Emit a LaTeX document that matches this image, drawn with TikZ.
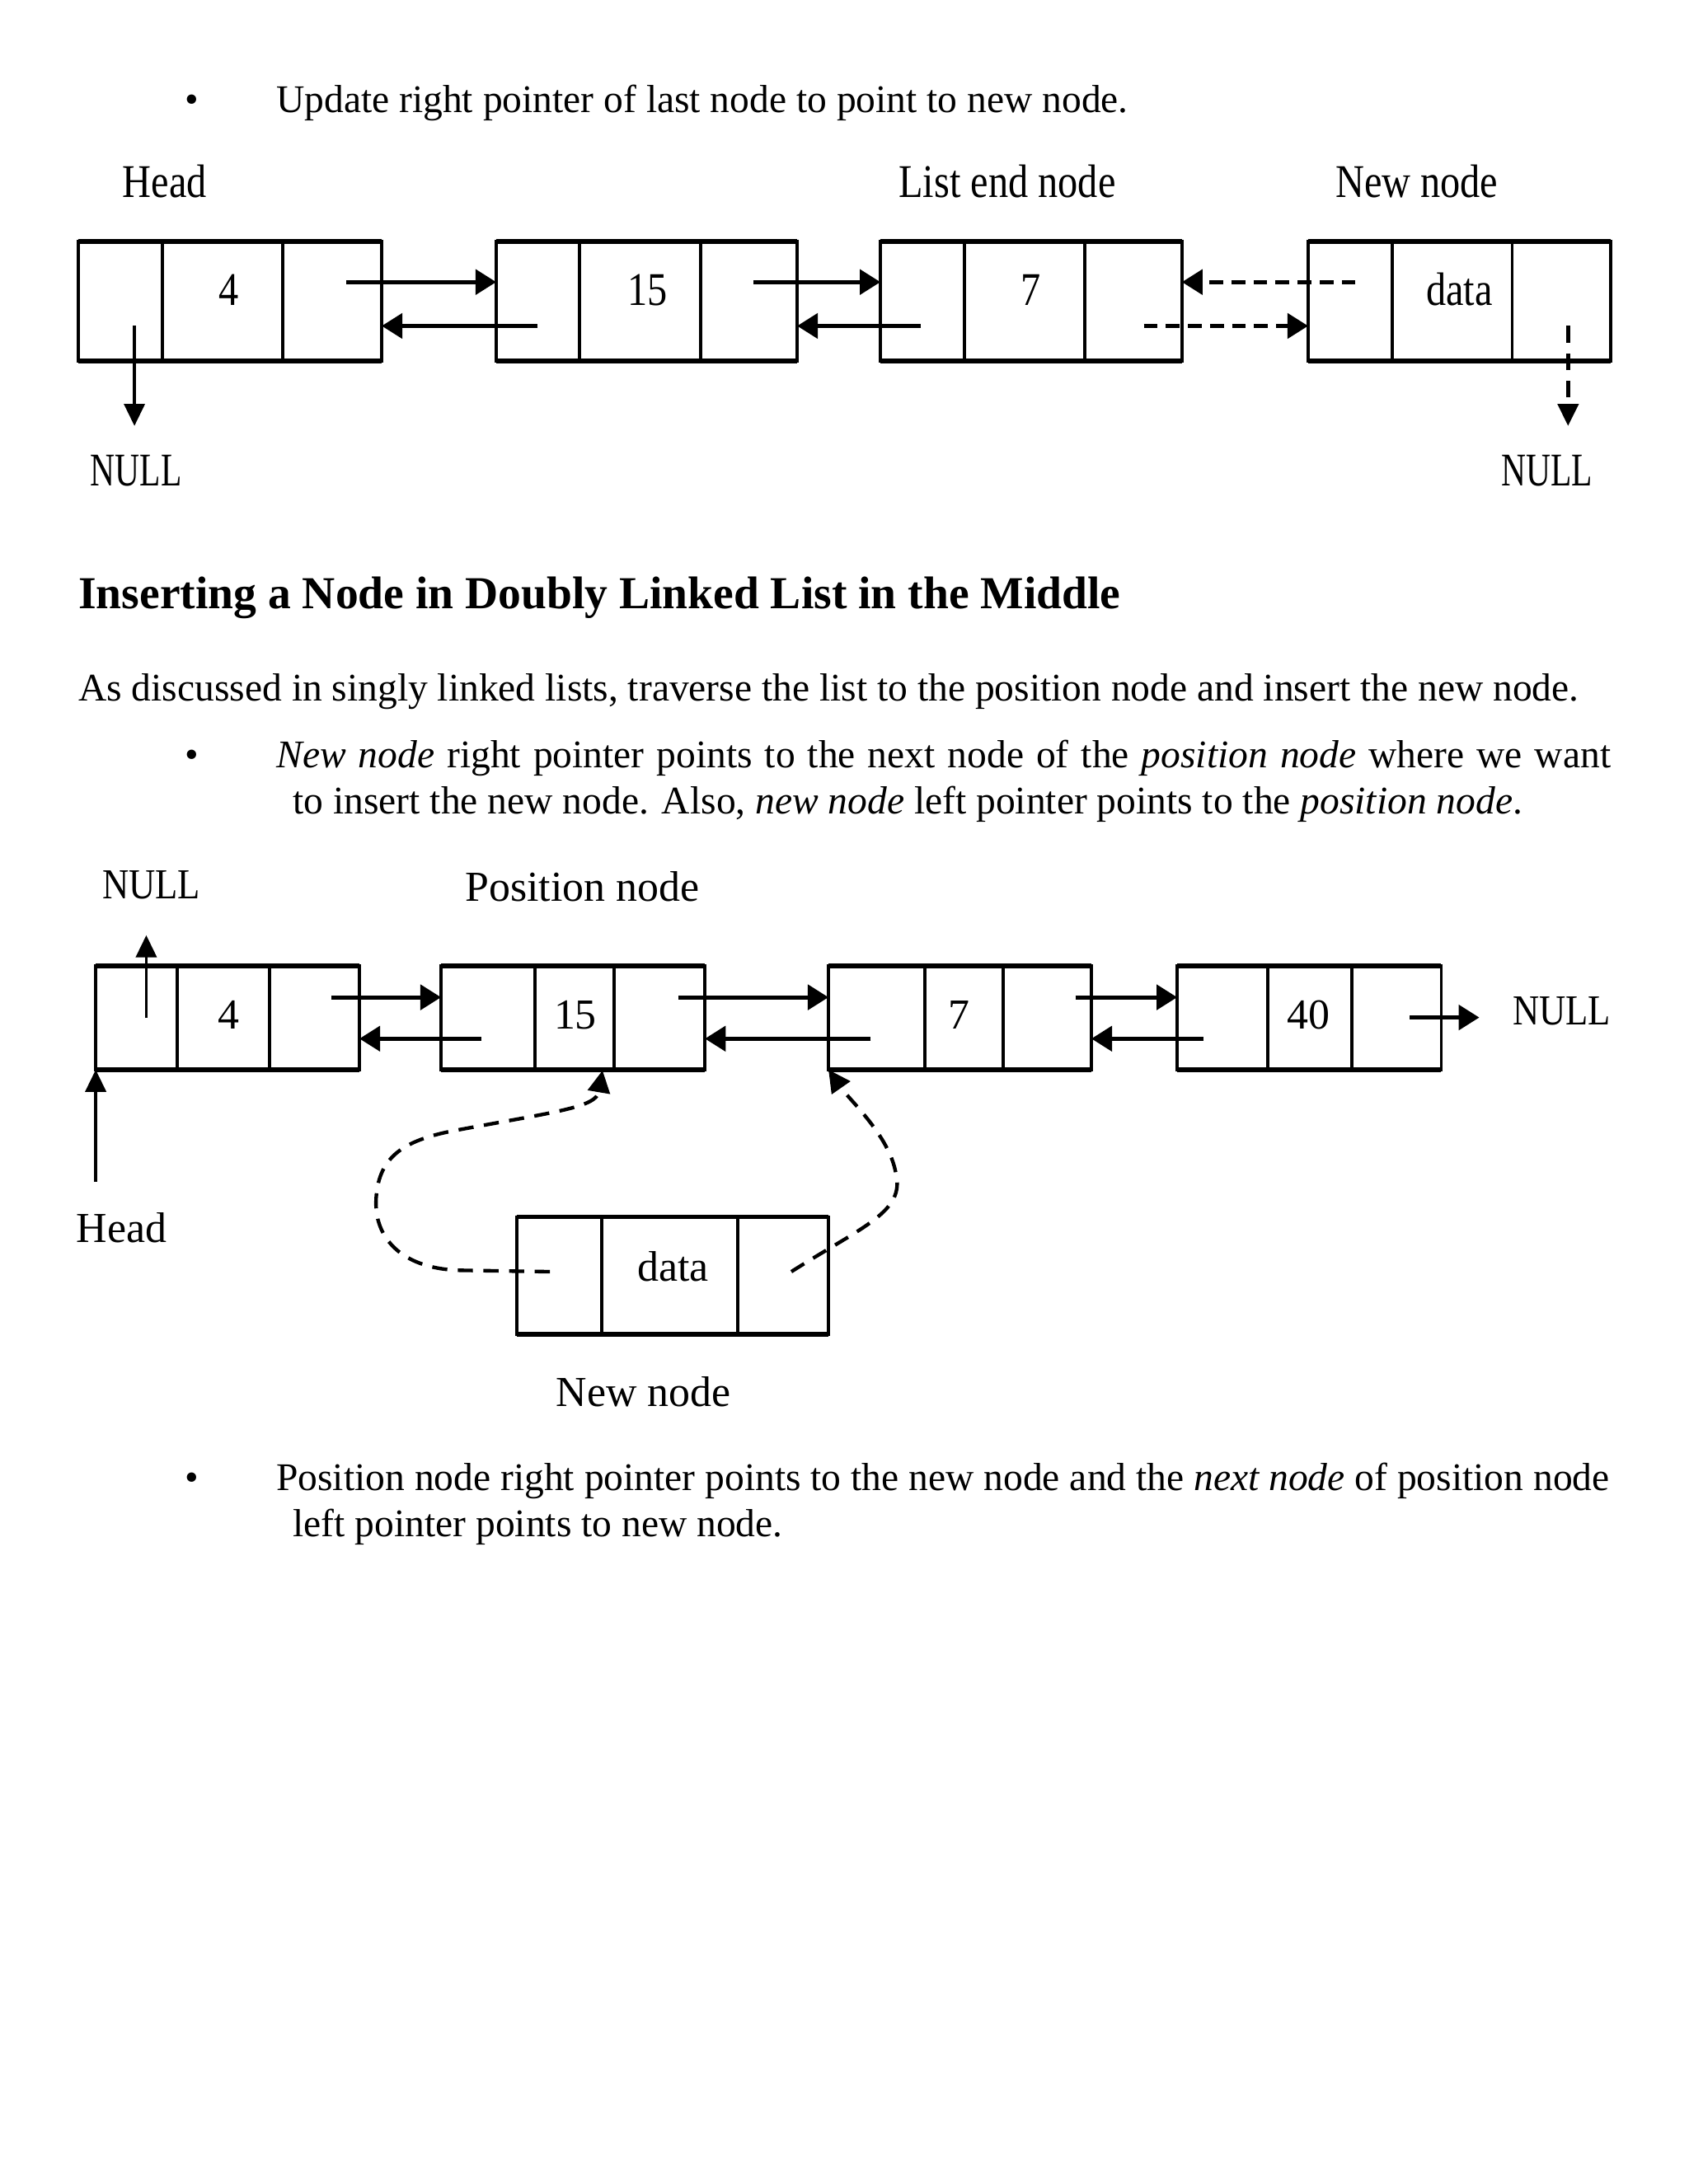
\documentclass[tikz,border=0pt]{standalone}
\usepackage{fontspec}
\setmainfont{Liberation Serif}
\newfontfamily\dgA[FakeStretch=0.85]{Liberation Serif}
\newfontfamily\dgB{Liberation Serif}
\newfontfamily\dgAnull[FakeStretch=0.73]{Liberation Serif}
\newfontfamily\dgBnull[FakeStretch=0.86]{Liberation Serif}
\usetikzlibrary{arrows.meta,calc}
\tikzset{
  cellA/.style={draw, line width=1.1pt, inner sep=0pt, outer sep=0pt, minimum height=85.5*0.505pt},
  cellB/.style={draw, line width=1.1pt, inner sep=0pt, outer sep=0pt, minimum height=74.5*0.505pt},
  cellN/.style={draw, line width=1.1pt, inner sep=0pt, outer sep=0pt, minimum height=84.4*0.505pt},
  cw/.style={minimum width=#1*0.505pt},
  edge/.style={line width=1.9pt, line cap=butt},
  valA/.style={inner sep=0pt, anchor=base, font=\dgA\fontsize{17}{20}\selectfont},
  nullA/.style={inner sep=0pt, anchor=base, font=\dgAnull\fontsize{17}{20}\selectfont},
  valB/.style={inner sep=0pt, anchor=base, font=\dgB\fontsize{15.5}{18}\selectfont},
  nullB/.style={inner sep=0pt, anchor=base, font=\dgBnull\fontsize{15.5}{18}\selectfont},
  body/.style={inner sep=0pt, font=\fontsize{14.2}{17}\selectfont},
  heading/.style={inner sep=0pt, font=\bfseries\fontsize{16.6}{20}\selectfont},
  ptr/.style={line width=1.5pt, -{Triangle[length=7.5pt,width=9pt]}},
  dptr/.style={ptr, dash pattern=on 5pt off 3pt},
  thinptr/.style={line width=1pt, -{Triangle[length=8pt,width=7.5pt]}},
  dthinptr/.style={line width=1.3pt, dash pattern=on 6pt off 4pt, -{Triangle[length=8pt,width=7.5pt]}},
  curveptr/.style={line width=1.3pt, dash pattern=on 5.5pt off 3.8pt, -{Triangle[length=8pt,width=8pt]}},
}
\begin{document}
\begin{tikzpicture}[x=0.505pt, y=-0.505pt]
\useasboundingbox (0,0) rectangle (1212,1568);
\fill[white] (0,0) rectangle (1212,1568);

% ---------- text ----------
\node[body, anchor=base] (b1) at (138,81) {•};
\node[body, anchor=base west] (t1) at (198,81) {Update right pointer of last node to point to new node.};
\node[heading, anchor=base west] (h1) at (56,437) {Inserting a Node in Doubly Linked List in the Middle};
\node[body, anchor=base west] (p1) at (56,503) {As discussed in singly linked lists, traverse the list to the position node and insert the new node.};
\node[body, anchor=base] (b2) at (138,551) {•};
\node[body, anchor=base west] (t2a) at (198,551) {\makebox[483.8pt][s]{\textit{New node} right pointer points to the next node of the \textit{position node} where we want}};
\node[body, anchor=base west] (t2b) at (210,584) {to insert the new node. Also, \textit{new node} left pointer points to the \textit{position node}.};
\node[body, anchor=base] (b3) at (138,1070) {•};
\node[body, anchor=base west] (t3a) at (198,1070) {\makebox[483.3pt][s]{Position node right pointer points to the new node and the \textit{next node} of position node}};
\node[body, anchor=base west] (t3b) at (210,1103) {left pointer points to new node.};

% ---------- diagram 1 ----------
\node[valA] (lA1) at (118.3,141.5) {Head};
\node[valA] (lA2) at (723,141.5) {List end node};
\node[valA] (lA3) at (1017,141.5) {New node};
\node[nullA] (nullA1) at (97.8,349) {NULL};
\node[nullA] (nullA2) at (1110.5,349) {NULL};

\node[cellA, cw=60.3] (A1p) at (86.45,216.25) {};
\node[cellA, cw=86.4] (A1d) at (159.8,216.25) {};
\node[cellA, cw=71]   (A1n) at (238.5,216.25) {};
\node[cellA, cw=59.8] (A2p) at (386.1,216.25) {};
\node[cellA, cw=87]   (A2d) at (459.5,216.25) {};
\node[cellA, cw=69.2] (A2n) at (537.6,216.25) {};
\node[cellA, cw=60.4] (A3p) at (662.2,216.25) {};
\node[cellA, cw=86.2] (A3d) at (735.5,216.25) {};
\node[cellA, cw=69.8] (A3n) at (813.5,216.25) {};
\node[cellA, cw=60.4] (A4p) at (969.2,216.25) {};
\node[cellA, cw=86]   (A4d) at (1042.4,216.25) {};
\node[cellA, cw=70.6] (A4n) at (1120.7,216.25) {};
\foreach \n in {A1,A2,A3,A4}{
  \draw[edge] (\n p.north west) -- (\n n.north east);
  \draw[edge] (\n p.south west) -- (\n n.south east);
}
\node[valA] (A1v) at (164,219) {4};
\node[valA] (A2v) at (465,219) {15};
\node[valA] (A3v) at (740,219) {7};
\node[valA] (A4v) at (1047.5,219) {data};

\coordinate (a1s) at (248.6,202.5);
\coordinate (a2b) at (386,234);
\coordinate (a2s) at (541,202.5);
\coordinate (a3b) at (661,234);
\coordinate (a4b) at (973,202.5);
\coordinate (a3s) at (821,234);
\coordinate (a1n) at (96.5,234);
\coordinate (a4n) at (1125.6,234);
\draw[ptr] (a1s) -- (a1s -| A2p.west);
\draw[ptr] (a2b) -- (a2b -| A1n.east);
\draw[ptr] (a2s) -- (a2s -| A3p.west);
\draw[ptr] (a3b) -- (a3b -| A2n.east);
\draw[dptr] (a4b) -- (a4b -| A3n.east);
\draw[dptr] (a3s) -- (a3s -| A4p.west);
\draw[thinptr, shorten >=10.5pt] (a1n) -- (a1n |- nullA1.north);
\draw[dthinptr, shorten >=10.5pt] (a4n) -- (a4n |- nullA2.north);

% ---------- diagram 2 ----------
\node[nullB] (nullB1) at (108.6,645) {NULL};
\node[valB] (lB1) at (418,647) {Position node};
\node[nullB] (nullB2) at (1121,736) {NULL};
\node[valB] (lB2) at (87.3,892) {Head};
\node[valB] (lB3) at (462,1009.6) {New node};

\node[cellB, cw=58.6] (B1p) at (98,730.75) {};
\node[cellB, cw=66.3] (B1d) at (160.45,730.75) {};
\node[cellB, cw=64.4] (B1n) at (225.8,730.75) {};
\node[cellB, cw=67.4] (B2p) at (350.3,730.75) {};
\node[cellB, cw=57]   (B2d) at (412.5,730.75) {};
\node[cellB, cw=65]   (B2n) at (473.5,730.75) {};
\node[cellB, cw=69.3] (B3p) at (629.35,730.75) {};
\node[cellB, cw=56]   (B3d) at (692,730.75) {};
\node[cellB, cw=63.4] (B3n) at (751.7,730.75) {};
\node[cellB, cw=65]   (B4p) at (877.5,730.75) {};
\node[cellB, cw=60.5] (B4d) at (940.25,730.75) {};
\node[cellB, cw=64]   (B4n) at (1002.5,730.75) {};
\node[cellN, cw=61.2] (Np) at (401.4,915.8) {};
\node[cellN, cw=97.7] (Nd) at (480.85,915.8) {};
\node[cellN, cw=65.1] (Nn) at (562.25,915.8) {};
\foreach \n in {B1,B2,B3,B4,N}{
  \draw[edge, line width=1.6pt] (\n p.north west) -- (\n n.north east);
  \draw[edge, line width=1.6pt] (\n p.south west) -- (\n n.south east);
}
\node[valB] (B1v) at (164,739) {4};
\node[valB] (B2v) at (413,739) {15};
\node[valB] (B3v) at (688.5,739) {7};
\node[valB] (B4v) at (939.5,739) {40};
\node[valB] (Nv) at (483,920) {data};

\coordinate (b1s) at (238,716);
\coordinate (b2b) at (345.6,745.7);
\coordinate (b2s) at (487,716);
\coordinate (b3b) at (625,745.7);
\coordinate (b3s) at (772,716);
\coordinate (b4b) at (864,745.7);
\coordinate (b4n) at (1012,730.5);
\coordinate (b1n) at (105,731);
\coordinate (hs) at (68.7,848.6);
\draw[ptr] (b1s) -- (b1s -| B2p.west);
\draw[ptr] (b2b) -- (b2b -| B1n.east);
\draw[ptr] (b2s) -- (b2s -| B3p.west);
\draw[ptr] (b3b) -- (b3b -| B2n.east);
\draw[ptr] (b3s) -- (b3s -| B4p.west);
\draw[ptr] (b4b) -- (b4b -| B3n.east);
\draw[ptr, shorten >=11.9pt] (b4n) -- (b4n -| nullB2.west);
\draw[thinptr, shorten >=13pt] (b1n) -- (b1n |- nullB1.south);
\draw[thinptr] (hs) -- (hs |- B1p.south);

\coordinate (c1s) at (394.7,913);
\coordinate (c1t) at (432.5,768.5);
\coordinate (c2s) at (568,913);
\draw[curveptr] (c1s) -- (330,912) .. controls (290,911) and (268,890) .. (270,860)
   .. controls (272,830) and (290,818) .. (330,811)
   .. controls (400,798) and (428,795) .. (c1t);
\draw[curveptr] (c2s) .. controls (620,880) and (650,870) .. (643,842)
   .. controls (638,815) and (610,790) .. (B3p.south west);
\end{tikzpicture}
\end{document}
